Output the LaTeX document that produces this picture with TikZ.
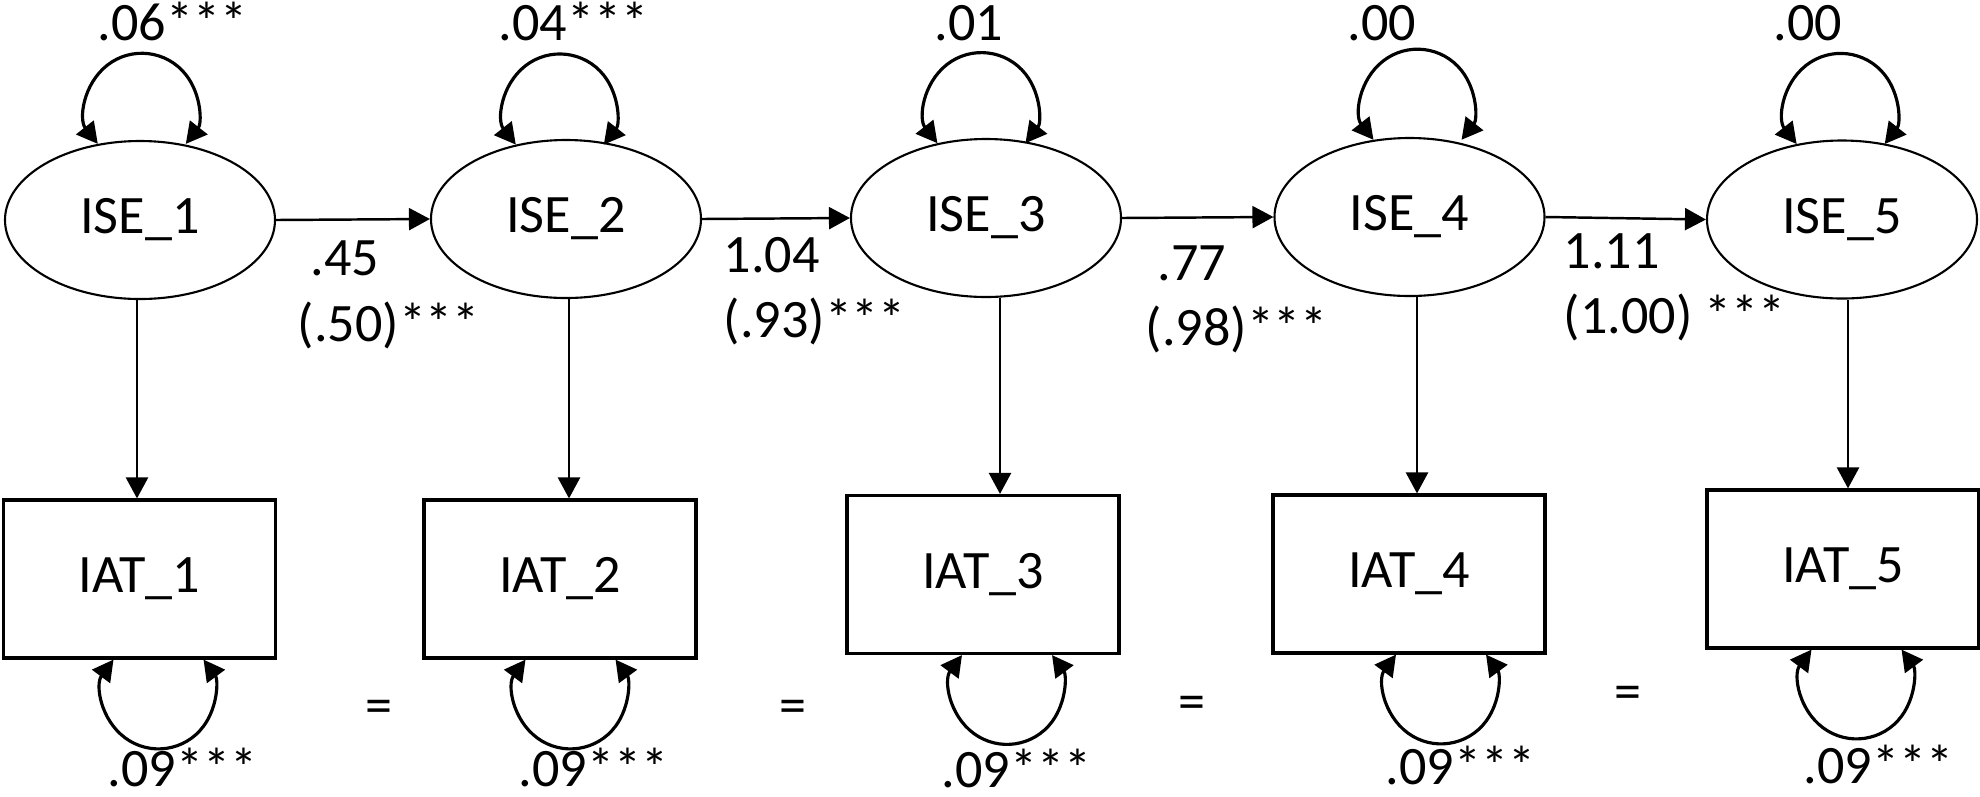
\documentclass[tikz,border=0pt]{standalone}
\usepackage{fontspec}
\setmainfont{Carlito}
\usepackage{tikz}
\usetikzlibrary{positioning}
\usetikzlibrary{shapes.geometric}
\usetikzlibrary{arrows.meta}
\tikzset{
latent/.style={draw, ellipse, line width=0.6pt, minimum width=2.70cm, minimum height=1.58cm, inner sep=0pt},
observed/.style={draw, rectangle, line width=0.9pt, minimum width=2.72cm, minimum height=1.58cm, inner sep=0pt},
regpath/.style={-{Triangle[length=2.1mm,width=2.2mm]}, line width=0.7pt},
varloop/.style={{Triangle[length=2.1mm,width=2.2mm]}-{Triangle[length=2.1mm,width=2.2mm]}, line width=0.9pt},
est/.style={anchor=base west, inner sep=0pt},
}

\begin{document}
\begin{tikzpicture}[font=\fontsize{15.4}{18.5}\selectfont]
\useasboundingbox (0,0) rectangle (19.8,-7.96);
% latent variables
\node[latent] (ise1) at (1.40,-2.20) {ISE\_1};
\node[latent] (ise2) at (5.66,-2.19) {ISE\_2};
\node[latent] (ise3) at (9.86,-2.18) {ISE\_3};
\node[latent] (ise4) at (14.095,-2.17) {ISE\_4};
\node[latent] (ise5) at (18.42,-2.195) {ISE\_5};
% observed indicators
\node[observed] (iat1) at (1.395,-5.79) {IAT\_1};
\node[observed] (iat2) at (5.60,-5.79) {IAT\_2};
\node[observed] (iat3) at (9.83,-5.745) {IAT\_3};
\node[observed] (iat4) at (14.09,-5.74) {IAT\_4};
\node[observed] (iat5) at (18.43,-5.69) {IAT\_5};
% autoregressive paths
\foreach \i/\j in {1/2,2/3,3/4,4/5} {
\draw[regpath] (ise\i.east) -- (ise\j.west);
}
% loadings
\foreach \i/\s in {1/-0.03,2/0.03,3/0.14,4/0.075,5/0.06} {
\draw[regpath] ([xshift=\s cm]ise\i.south) coordinate (ld\i) -- (ld\i |- iat\i.north);
}
% variances
\foreach \i/\a in {1/119.5,2/124.6,3/123,4/115.3,5/121.4} {
\draw[varloop] (ise\i.\a) arc[start angle=218.2, end angle=-38.2, radius=0.56];
}
\foreach \i/\s in {1/-0.26,2/-0.345,3/-0.21,4/-0.13,5/-0.315} {
\draw[varloop] ([xshift=\s cm]iat\i.south) arc[start angle=143.5, end angle=396.5, radius=0.56];
}
% estimates
\foreach \i/\x/\t in {1/0.97/.06***,2/4.98/.04***,3/9.34/.01,4/13.47/.00,5/17.73/.00} {
\node[est] (var\i) at (\x,-0.40) {\t};
}
\foreach \i/\x/\y in {1/1.07/-7.86,2/5.18/-7.86,3/9.41/-7.87,4/13.85/-7.84,5/18.03/-7.83} {
\node[est] (res\i) at (\x,\y) {.09***};
}
\node[est] (b12) at (3.10,-2.75) {.45};
\node[est] (s12) at (2.97,-3.41) {(.50)***};
\node[est] (b23) at (7.23,-2.72) {1.04};
\node[est] (s23) at (7.23,-3.37) {(.93)***};
\node[est] (b34) at (11.57,-2.80) {.77};
\node[est] (s34) at (11.45,-3.45) {(.98)***};
\node[est] (b45) at (15.63,-2.68) {1.11};
\node[est] (s45) at (15.63,-3.33) {(1.00) ***};
% equality constraints
\foreach \i/\x/\y in {1/3.79/-7.12,2/7.93/-7.12,3/11.92/-7.08,4/16.28/-6.98} {
\node (eq\i) at (\x,\y) {=};
}
\end{tikzpicture}
\end{document}
